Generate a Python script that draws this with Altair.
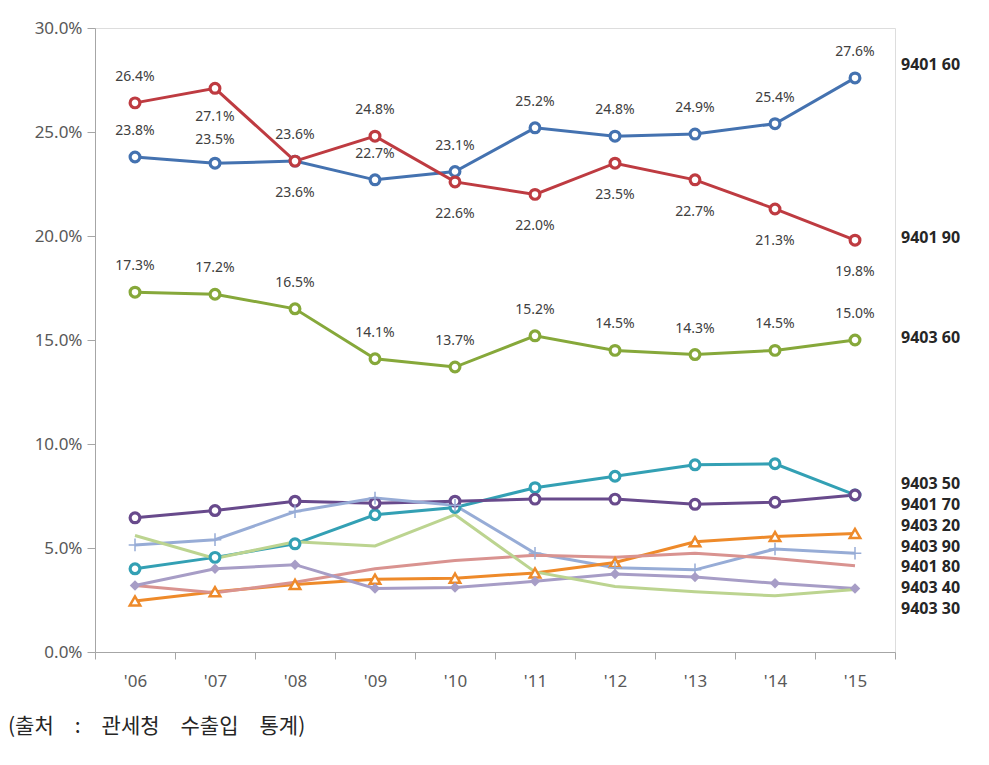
import altair as alt
import pandas as pd

years = ["'06", "'07", "'08", "'09", "'10", "'11", "'12", "'13", "'14", "'15"]

s940160 = [23.8, 23.5, 23.6, 22.7, 23.1, 25.2, 24.8, 24.9, 25.4, 27.6]
s940190 = [26.4, 27.1, 23.6, 24.8, 22.6, 22.0, 23.5, 22.7, 21.3, 19.8]
s940360 = [17.3, 17.2, 16.5, 14.1, 13.7, 15.2, 14.5, 14.3, 14.5, 15.0]
s940350 = [4.0, 4.55, 5.2, 6.6, 6.95, 7.9, 8.45, 9.0, 9.05, 7.55]
s940170 = [6.45, 6.8, 7.25, 7.15, 7.25, 7.35, 7.35, 7.1, 7.2, 7.55]
s940320 = [5.15, 5.4, 6.75, 7.4, 7.05, 4.75, 4.05, 3.95, 4.95, 4.75]
s940390 = [2.45, 2.9, 3.25, 3.5, 3.55, 3.8, 4.3, 5.3, 5.55, 5.7]
s940180 = [3.2, 2.85, 3.35, 4.0, 4.4, 4.65, 4.55, 4.75, 4.5, 4.15]
s940340 = [3.2, 4.0, 4.2, 3.05, 3.1, 3.4, 3.75, 3.6, 3.3, 3.05]
s940330 = [5.6, 4.5, 5.3, 5.1, 6.6, 3.85, 3.15, 2.9, 2.7, 3.0]

series_names = ["9401 60", "9401 90", "9403 60", "9403 50", "9401 70",
                "9403 20", "9403 90", "9401 80", "9403 40", "9403 30"]
series_values = [s940160, s940190, s940360, s940350, s940170,
                 s940320, s940390, s940180, s940340, s940330]
series_colors = ["#4472B0", "#BE3B41", "#86A83A", "#33A0B4", "#684A8C",
                 "#97ACD6", "#EE8A2A", "#D99390", "#A79DC6", "#BCD490"]

# data-label placement for the three top series
label_pos = {
    "9401 60": ["above", "above_near", "above", "above", "above", "above", "above", "above", "above", "above"],
    "9401 90": ["above", "below_near", "below", "above", "below", "below", "below", "below", "below", "below"],
    "9403 60": ["above"] * 10,
}
pos_offsets = {"above": -26, "above_near": -23, "below": 32, "below_near": 29}

# right-hand series labels (vertical position in value units)
right_labels = ["9401 60", "9401 90", "9403 60", "9403 50", "9401 70",
                "9403 20", "9403 90", "9401 80", "9403 40", "9403 30"]
right_label_y = [28.2, 19.9, 15.1, 8.1, 7.07, 6.06, 5.05, 4.08, 3.07, 2.06]

source_note = "(출처\u3000:\u3000관세청\u3000수출입\u3000통계)"

rows = []
for name, vals in zip(series_names, series_values):
    for i, (yr, v) in enumerate(zip(years, vals)):
        rows.append({"year": yr, "series": name, "value": v,
                     "pos": label_pos.get(name, ["none"] * 10)[i],
                     "label": f"{v:.1f}%"})
df = pd.DataFrame(rows)

rdf = pd.DataFrame({"name": right_labels, "value": right_label_y})

W, H = 800, 624
FONT = "Noto Sans"
CJK = "Noto Sans CJK KR"

xenc = alt.X("year:N", sort=years,
             scale=alt.Scale(domain=years, paddingInner=0, paddingOuter=0),
             axis=alt.Axis(title=None, labelAngle=0, tickBand="extent", ticks=True,
                           tickSize=7, labelPadding=14, labelFontSize=17,
                           labelColor="#595959", labelFont=FONT,
                           domainColor="#A6A6A6", tickColor="#A6A6A6", grid=False))
yscale = alt.Scale(domain=[0, 30], nice=False, zero=True)
yaxis = alt.Axis(title=None, values=[0, 5, 10, 15, 20, 25, 30],
                 labelExpr="format(datum.value, '.1f') + '%'",
                 tickSize=8, labelPadding=5, labelFontSize=17,
                 labelColor="#595959", labelFont=FONT,
                 domainColor="#A6A6A6", tickColor="#A6A6A6", grid=False)
yenc = alt.Y("value:Q", scale=yscale, axis=yaxis)

cscale = alt.Scale(domain=series_names, range=series_colors)

base = alt.Chart(df)

lines = base.mark_line(strokeWidth=3).encode(
    x=xenc, y=yenc,
    color=alt.Color("series:N", scale=cscale, legend=None),
    detail="series:N",
)

circle_series = ["9401 70", "9403 50", "9403 60", "9401 90", "9401 60"]
circles = base.transform_filter(
    alt.FieldOneOfPredicate(field="series", oneOf=circle_series)
).mark_point(shape="circle", filled=True, fill="white", size=95, strokeWidth=3.2, opacity=1).encode(
    x=xenc, y=yenc,
    stroke=alt.Stroke("series:N", scale=cscale, legend=None),
)

triangles = base.transform_filter(alt.datum.series == "9403 90").mark_point(
    shape="triangle-up", filled=True, fill="white", size=110, strokeWidth=2.5,
    stroke="#EE8A2A", opacity=1).encode(x=xenc, y=yenc)

pluses = base.transform_filter(alt.datum.series == "9403 20").mark_point(
    shape="M-1,0H1M0,-1V1", filled=False, size=160, strokeWidth=1.5,
    stroke="#97ACD6", opacity=1).encode(x=xenc, y=yenc)

diamonds = base.transform_filter(alt.datum.series == "9403 40").mark_point(
    shape="diamond", filled=True, size=110, color="#A79DC6", opacity=1).encode(x=xenc, y=yenc)

label_layers = []
for pos, off in pos_offsets.items():
    label_layers.append(
        base.transform_filter(alt.datum.pos == pos).mark_text(
            dy=off, fontSize=14, font=FONT, color="#404040"
        ).encode(x=xenc, y=yenc, text="label:N")
    )

right = alt.Chart(rdf).mark_text(
    align="left", baseline="middle", fontSize=16, fontWeight="bold", font=FONT,
    color="#262626").encode(
    x=alt.value(W + 6),
    y=yenc,
    text="name:N",
)

note = alt.Chart(pd.DataFrame({"t": [source_note]})).mark_text(
    align="left", baseline="middle", fontSize=21, font=CJK, color="#262626").encode(
    x=alt.value(-87), y=alt.value(H + 75), text="t:N")

chart = alt.layer(lines, circles, triangles, pluses, diamonds, *label_layers, right, note).properties(
    width=W, height=H,
    autosize=alt.AutoSizeParams(type="none"),
    padding={"left": 87, "top": 20, "right": 80, "bottom": 100},
).configure_view(stroke=None).configure(background="white")

chart.save("out.html", embed_options={"renderer": "svg", "actions": False})
